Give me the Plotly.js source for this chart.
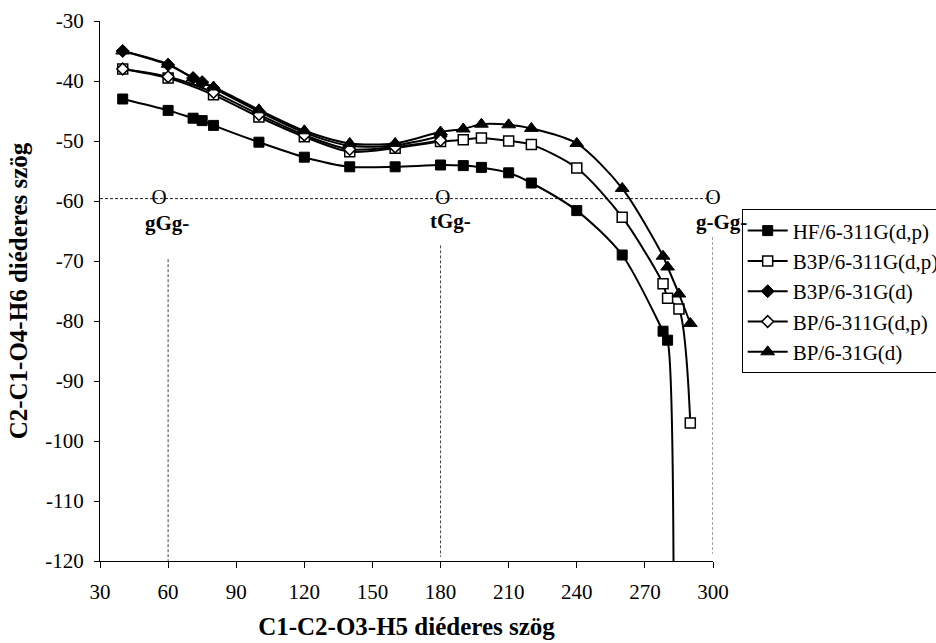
<!DOCTYPE html>
<html>
<head>
<meta charset="utf-8">
<script src="https://cdn.plot.ly/plotly-3.0.1.min.js"></script>
<style>html,body{margin:0;padding:0;background:#fff}#chart{width:936px;height:643px}</style>
</head>
<body>
<div id="chart"></div>
<script>
// Series data (x: C1-C2-O3-H5 dihedral, y: C2-C1-O4-H6 dihedral)
const seriesNames = ["HF/6-311G(d,p)", "B3P/6-311G(d,p)", "B3P/6-31G(d)", "BP/6-311G(d,p)", "BP/6-31G(d)"];

const hfX = [40, 60, 71, 75, 80, 100, 120, 140, 160, 180, 190, 198, 210, 220, 240, 260, 278, 280, 282.5];
const hfY = [-43, -44.9, -46.2, -46.6, -47.4, -50.2, -52.7, -54.3, -54.3, -54.0, -54.1, -54.4, -55.3, -57.0, -61.6, -69.0, -81.7, -83.2, -172];

const b3p311X = [40, 60, 80, 100, 120, 140, 160, 180, 190, 198, 210, 220, 240, 260, 278, 280, 285, 290];
const b3p311Y = [-38, -39.5, -42.3, -46.0, -49.3, -51.8, -51.2, -50.1, -49.8, -49.5, -50.0, -50.6, -54.5, -62.7, -73.8, -76.2, -78.0, -97.0];

const b3p31X = [40, 60, 71, 75, 80, 100, 120, 140, 160, 180];
const b3p31Y = [-35, -37.3, -39.5, -40.2, -41.2, -45.1, -48.6, -50.8, -50.7, -49.2];

const bp311X = [40, 60, 80, 100, 120, 140, 160, 180];
const bp311Y = [-38, -39.3, -41.9, -45.6, -49.0, -51.4, -51.0, -49.9];

const bp31X = [40, 60, 71, 75, 80, 100, 120, 140, 160, 180, 190, 198, 210, 220, 240, 260, 278, 280, 285, 290];
const bp31Y = [-35, -37.2, -39.5, -40.2, -41.0, -44.8, -48.3, -50.4, -50.4, -48.5, -48.0, -47.2, -47.3, -47.9, -50.4, -57.9, -69.2, -71.0, -75.5, -80.4];

// Conformer reference markers
const confX = [56, 181, 300];
const confY = [-59.6, -59.6, -59.6];
const confLabelX = [60, 180, 300];
const confLabelY = [-63.6, -63.3, -63.5];
const confLabels = ["gGg-", "tGg-", "g-Gg-"];

// Reference dashed lines
const hLineX = [30, 300];
const hLineY = [-59.6, -59.6];
const vLineX = [60, 180, 300];
const vLineTop = [-69.7, -67.4, -66.0];
const vLineBottom = [-120, -119.3, -118.8];

const xTicks = [30, 60, 90, 120, 150, 180, 210, 240, 270, 300];
const yTicks = [-30, -40, -50, -60, -70, -80, -90, -100, -110, -120];

const serif = "Liberation Serif, Times New Roman, serif";
const traces = [];

// dashed helper lines
traces.push({x: hLineX, y: hLineY, mode: "lines", line: {color: "#222", width: 1, dash: "3px,2px"}, showlegend: false, hoverinfo: "skip"});
vLineX.forEach((vx, i) => {
  traces.push({x: [vx, vx], y: [vLineTop[i], vLineBottom[i]], mode: "lines", line: {color: "#444", width: 1, dash: "3px,2px"}, showlegend: false, hoverinfo: "skip"});
});

const lineStyle = {color: "#000", width: 2, shape: "spline", smoothing: 0.8};
traces.push({x: hfX, y: hfY, name: seriesNames[0], mode: "lines+markers", line: lineStyle,
  marker: {symbol: "square", size: 10, color: "#000", line: {color: "#000", width: 1}}});
traces.push({x: b3p311X, y: b3p311Y, name: seriesNames[1], mode: "lines+markers", line: lineStyle,
  marker: {symbol: "square", size: 10, color: "#fff", line: {color: "#000", width: 1.5}}});
traces.push({x: b3p31X, y: b3p31Y, name: seriesNames[2], mode: "lines+markers", line: lineStyle,
  marker: {symbol: "diamond", size: 10, color: "#000", line: {color: "#000", width: 1}}});
traces.push({x: bp311X, y: bp311Y, name: seriesNames[3], mode: "lines+markers", line: lineStyle,
  marker: {symbol: "diamond", size: 9, color: "#fff", line: {color: "#000", width: 1.5}}});
traces.push({x: bp31X, y: bp31Y, name: seriesNames[4], mode: "lines+markers", line: lineStyle,
  marker: {symbol: "triangle-up", size: 12, color: "#000", line: {color: "#000", width: 1}}});

// conformer "O" markers
traces.push({x: confX, y: confY, mode: "text", text: confX.map(() => "O"), textposition: "middle center",
  textfont: {family: serif, size: 21, color: "#000"}, showlegend: false, hoverinfo: "skip", cliponaxis: false});

// conformer labels as annotations, nudged in pixels
const labelShift = [-1, 10, 8];
const annotations = confLabels.map((t, i) => ({
  x: confLabelX[i], y: confLabelY[i], xref: "x", yref: "y", text: "<b>" + t + "</b>",
  showarrow: false, xanchor: "center", yanchor: "middle", xshift: labelShift[i],
  font: {family: serif, size: 21, color: "#000"}
}));

const layout = {
  width: 936, height: 643,
  margin: {l: 100, r: 223, t: 21, b: 82, autoexpand: false},
  paper_bgcolor: "#fff", plot_bgcolor: "#fff",
  font: {family: serif, size: 21, color: "#000"},
  showlegend: true,
  legend: {x: 1.0468, y: 0.651, xanchor: "left", yanchor: "top", bgcolor: "#fff",
    bordercolor: "#000", borderwidth: 1, font: {family: serif, size: 21, color: "#000"},
    itemwidth: 40, tracegroupgap: 0},
  annotations: annotations,
  xaxis: {range: [30, 300], tickvals: xTicks, ticktext: xTicks.map(String), showgrid: false, zeroline: false,
    showline: true, linecolor: "#000", linewidth: 1, ticks: "outside", ticklen: 6, tickcolor: "#000",
    tickfont: {family: serif, size: 21}, ticklabelstandoff: 6,
    title: {text: "<b>C1-C2-O3-H5 diéderes szög</b>", font: {family: serif, size: 25}, standoff: 14}},
  yaxis: {range: [-120, -30], tickvals: yTicks, ticktext: yTicks.map(v => "-" + Math.abs(v)), showgrid: false, zeroline: false,
    showline: true, linecolor: "#000", linewidth: 1, ticks: "outside", ticklen: 5, tickcolor: "#000",
    tickfont: {family: serif, size: 21}, ticklabelstandoff: 6,
    title: {text: "<b>C2-C1-O4-H6 diéderes szög</b>", font: {family: serif, size: 25}, standoff: 10}}
};

Plotly.newPlot("chart", traces, layout, {displayModeBar: false, staticPlot: true});
</script>
</body>
</html>
